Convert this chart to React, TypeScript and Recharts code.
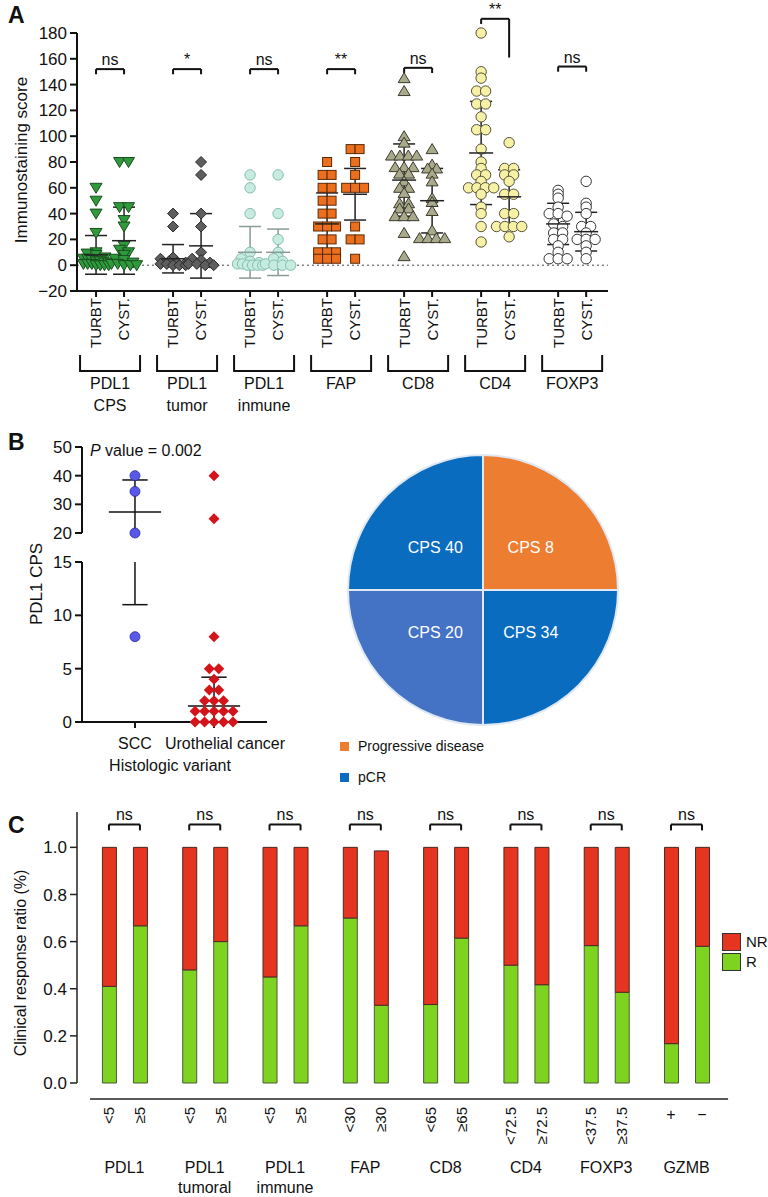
import {
  ScatterChart,
  Scatter,
  XAxis,
  YAxis,
  ReferenceLine,
  ErrorBar,
  BarChart,
  Bar,
  PieChart,
  Pie,
  Cell,
} from "recharts";

const FONT = "'Liberation Sans', Arial, Helvetica, sans-serif";
const INK = "#111111";

// ---------- panel A: immunostaining scores ----------
const markers = [["PDL1", "CPS"], ["PDL1", "tumor"], ["PDL1", "inmune"], ["FAP"], ["CD8"], ["CD4"], ["FOXP3"]];
const sampleTypes = ["TURBT", "CYST."];
const turbtScores = [
  [60, 50, 40, 25, 10, 9, 8, 6, 5, 5, 4, 3, 3, 2, 2, 1, 1, 1, 0, 0, 0, 0],
  [40, 30, 6, 5, 3, 2, 2, 1, 1, 0, 0, 0],
  [70, 60, 40, 10, 5, 3, 2, 1, 1, 0, 0, 0, 0],
  [80, 70, 70, 60, 60, 50, 50, 40, 40, 30, 30, 30, 20, 20, 10, 10, 10, 5, 5, 5],
  [145, 135, 100, 95, 85, 85, 85, 85, 76, 76, 76, 71, 71, 65, 60, 60, 56, 48, 48, 44, 44, 38, 38, 38, 25, 7],
  [180, 150, 145, 135, 135, 125, 125, 115, 105, 105, 90, 80, 75, 70, 70, 65, 60, 60, 60, 60, 55, 45, 40, 30, 18],
  [58, 55, 52, 45, 40, 40, 38, 32, 30, 25, 25, 20, 20, 15, 10, 5, 5, 5],
];
const cystScores = [
  [80, 80, 45, 45, 35, 30, 15, 12, 10, 8, 5, 4, 2, 1, 1, 0, 0, 0],
  [80, 70, 40, 30, 10, 5, 4, 2, 1, 1, 0, 0],
  [70, 40, 20, 10, 6, 5, 3, 1, 0, 0, 0],
  [90, 90, 80, 70, 60, 60, 60, 30, 20, 20, 5],
  [90, 78, 75, 75, 71, 65, 52, 49, 42, 27, 21, 21, 21, 21],
  [95, 75, 75, 70, 70, 65, 55, 55, 40, 40, 30, 30, 30, 30, 22],
  [65, 48, 45, 40, 30, 30, 25, 20, 20, 20, 15, 10, 5],
];
const turbtMean = [8, 5, 10, 32, 66, 87, 32];
const turbtSd = [15, 11, 20, 24, 28, 40, 16];
const cystMean = [19, 15, 10, 55, 50, 53, 26];
const cystSd = [26, 25, 18, 20, 25, 21, 15];
const significance = ["ns", "*", "ns", "**", "ns", "**", "ns"];
const bracketTop = [152, 152, 152, 152, 153, 191, 154];
const bracketRightEnd = [148, 148, 148, 148, 149, 161, 150];
const scoreTicks = [-20, 0, 20, 40, 60, 80, 100, 120, 140, 160, 180];

const markerStyles = [
  { kind: "triangleDown", fill: "#2f9a3c", stroke: "#1a4d1f", bar: "#222" },
  { kind: "diamond", fill: "#5e5e5e", stroke: "#2a2a2a", bar: "#222" },
  { kind: "circle", fill: "#c6ebe0", stroke: "#86bfae", bar: "#8a9a95" },
  { kind: "square", fill: "#ec6f1d", stroke: "#5a2a08", bar: "#222" },
  { kind: "triangleUp", fill: "#a9a98c", stroke: "#3b3b2c", bar: "#222" },
  { kind: "circle", fill: "#f6f1a6", stroke: "#55533a", bar: "#222" },
  { kind: "circle", fill: "#ffffff", stroke: "#333333", bar: "#222" },
];

// ---------- panel B: PDL1 CPS by histologic variant ----------
const variants = ["SCC", "Urothelial cancer"];
const sccScores = [40, 34.5, 20, 8];
const urothelialScores = [40, 25, 8, 5, 5, 4, 3, 3, 2, 2, 2, 1, 1, 1, 1, 1, 0, 0, 0, 0, 0];
const sccSummary = { mean: 27.3, upper: 38.5, lower: 11 };
const urothelialSummary = { mean: 1.5, upper: 4.2, lower: 0 };
const topTicks = [20, 30, 40, 50];
const bottomTicks = [0, 5, 10, 15];

const pieSlices = ["CPS 8", "CPS 34", "CPS 20", "CPS 40"];
const pieOutcome = ["Progressive disease", "pCR", "pCR", "pCR"];
const piePatients = [1, 1, 1, 1];
const pieColors = ["#ed7d31", "#0a6cbf", "#4472c4", "#0a6cbf"];
const outcomeLegend = [
  { name: "Progressive disease", color: "#ed7d31" },
  { name: "pCR", color: "#0a6cbf" },
];

// ---------- panel C: clinical response ratio ----------
const cutoffLabels = ["<5", "≥5", "<5", "≥5", "<5", "≥5", "<30", "≥30", "<65", "≥65", "<72.5", "≥72.5", "<37.5", "≥37.5", "+", "−"];
const responseGroups = [["PDL1"], ["PDL1", "tumoral"], ["PDL1", "immune"], ["FAP"], ["CD8"], ["CD4"], ["FOXP3"], ["GZMB"]];
const responders = [0.41, 0.667, 0.48, 0.6, 0.45, 0.667, 0.7, 0.33, 0.333, 0.615, 0.5, 0.417, 0.583, 0.385, 0.167, 0.58];
const nonResponders = [0.59, 0.333, 0.52, 0.4, 0.55, 0.333, 0.3, 0.655, 0.667, 0.385, 0.5, 0.583, 0.417, 0.615, 0.833, 0.42];
const ratioTicks = [0, 0.2, 0.4, 0.6, 0.8, 1.0];
const GREEN = "#7ed321";
const RED = "#e5341f";

// ---------- helpers ----------
function spread(values: number[], center: number, bin: number, step: number, maxWidth: number) {
  const keys = values.map((v) => Math.round(v / bin));
  const counts: Record<number, number> = {};
  keys.forEach((k) => (counts[k] = (counts[k] || 0) + 1));
  const seen: Record<number, number> = {};
  return values.map((v, i) => {
    const k = keys[i];
    const n = counts[k];
    const j = (seen[k] = (seen[k] ?? -1) + 1);
    const st = n > 1 ? Math.min(step, maxWidth / (n - 1)) : 0;
    return { x: center + (j - (n - 1) / 2) * st, y: v };
  });
}

function drawMarker(kind: string, cx: number, cy: number, fill: string, stroke: string) {
  const sw = 1;
  switch (kind) {
    case "square":
      return <rect x={cx - 4.5} y={cy - 4.5} width={9} height={9} fill={fill} stroke={stroke} strokeWidth={sw} />;
    case "diamond":
      return (
        <polygon
          points={`${cx},${cy - 5.5} ${cx + 5.5},${cy} ${cx},${cy + 5.5} ${cx - 5.5},${cy}`}
          fill={fill}
          stroke={stroke}
          strokeWidth={sw}
        />
      );
    case "triangleDown":
      return (
        <polygon
          points={`${cx - 6},${cy - 4.5} ${cx + 6},${cy - 4.5} ${cx},${cy + 5.5}`}
          fill={fill}
          stroke={stroke}
          strokeWidth={sw}
        />
      );
    case "triangleUp":
      return (
        <polygon
          points={`${cx - 6},${cy + 4.5} ${cx + 6},${cy + 4.5} ${cx},${cy - 5.5}`}
          fill={fill}
          stroke={stroke}
          strokeWidth={sw}
        />
      );
    default:
      return <circle cx={cx} cy={cy} r={5.2} fill={fill} stroke={stroke} strokeWidth={sw} />;
  }
}

const RotatedTitle = ({ tx, ty, text, size }: any) => (
  <text
    x={tx}
    y={ty}
    transform={`rotate(-90 ${tx} ${ty})`}
    textAnchor="middle"
    dy="0.36em"
    fontSize={size}
    fill={INK}
    fontFamily={FONT}
  >
    {text}
  </text>
);

const PlainTitle = ({ tx, ty, text, size }: any) => (
  <text x={tx} y={ty} textAnchor="middle" fontSize={size} fill={INK} fontFamily={FONT}>
    {text}
  </text>
);

const minus = (v: number) => (v < 0 ? `−${-v}` : `${v}`);

// ---------- panel A ----------
const STEP_A = 2.75;
const A_DOMAIN: [number, number] = [-0.68, 18.28];
const sampleX = markers.flatMap((_, g) => sampleTypes.map((_, s) => g * STEP_A + s));
const groupX = markers.map((_, g) => g * STEP_A + 0.5);

const SampleTick = ({ x, y, index }: any) => (
  <text
    x={x}
    y={y}
    dy="0.36em"
    transform={`rotate(-90 ${x} ${y})`}
    textAnchor="end"
    fontSize={15}
    fill={INK}
    fontFamily={FONT}
  >
    {sampleTypes[index % 2]}
  </text>
);

const GroupTick = ({ x, y, index }: any) => (
  <g>
    <path d={`M${x - 30},${y + 2} V${y + 18} H${x + 30} V${y + 2}`} stroke={INK} strokeWidth={2} fill="none" />
    {markers[index].map((t, i) => (
      <text key={t} x={x} y={y + 36 + i * 22} textAnchor="middle" fontSize={16} fill={INK} fontFamily={FONT}>
        {t}
      </text>
    ))}
  </g>
);

function PanelA() {
  return (
    <ScatterChart width={768} height={420} margin={{ top: 33, right: 160, bottom: 7, left: 17 }}>
      <XAxis
        type="number"
        dataKey="x"
        domain={A_DOMAIN}
        allowDataOverflow
        ticks={sampleX}
        interval={0}
        tick={<SampleTick />}
        tickSize={6}
        tickMargin={1}
        height={62}
        stroke={INK}
        strokeWidth={2}
      />
      <XAxis
        xAxisId="grp"
        type="number"
        dataKey="x"
        domain={A_DOMAIN}
        allowDataOverflow
        ticks={groupX}
        interval={0}
        tick={<GroupTick />}
        axisLine={false}
        tickLine={false}
        tickSize={0}
        tickMargin={0}
        height={60}
      />
      <YAxis
        type="number"
        dataKey="y"
        domain={[-20, 180]}
        ticks={scoreTicks}
        interval={0}
        width={60}
        tickSize={7}
        tickMargin={3}
        tickFormatter={minus}
        stroke={INK}
        strokeWidth={2}
        tick={{ fontSize: 17, fill: INK, fontFamily: FONT }}
        label={<RotatedTitle tx={21} ty={160} text="Immunostaining score" size={17} />}
      />
      <ReferenceLine y={0} stroke="#444" strokeDasharray="2 3" strokeWidth={1} />
      {/* anchors the group axis to its positions; draws nothing */}
      <Scatter
        xAxisId="grp"
        data={groupX.map((x) => ({ x, y: 0 }))}
        isAnimationActive={false}
        shape={() => <g />}
      />
      {markers.map((_, g) => {
        const st = markerStyles[g];
        const pts = [
          ...spread(turbtScores[g], g * STEP_A, 4, 0.32, 0.9),
          ...spread(cystScores[g], g * STEP_A + 1, 4, 0.32, 0.9),
        ];
        return (
          <Scatter
            key={`pts-${g}`}
            data={pts}
            isAnimationActive={false}
            shape={(p: any) => drawMarker(st.kind, p.cx, p.cy, st.fill, st.stroke)}
          />
        );
      })}
      {markers.map((_, g) => {
        const st = markerStyles[g];
        const summary = [
          { x: g * STEP_A, y: turbtMean[g], err: turbtSd[g] },
          { x: g * STEP_A + 1, y: cystMean[g], err: cystSd[g] },
        ];
        return (
          <Scatter
            key={`sum-${g}`}
            data={summary}
            isAnimationActive={false}
            shape={(p: any) => (
              <line x1={p.cx - 12} x2={p.cx + 12} y1={p.cy} y2={p.cy} stroke={st.bar} strokeWidth={1.5} />
            )}
          >
            <ErrorBar dataKey="err" direction="y" width={11} stroke={st.bar} strokeWidth={1.5} isAnimationActive={false} />
          </Scatter>
        );
      })}
      {markers.map((_, g) => {
        const x1 = g * STEP_A;
        const x2 = x1 + 1;
        const top = bracketTop[g];
        return [
          <ReferenceLine
            key={`bl-${g}`}
            segment={[{ x: x1, y: top }, { x: x1, y: top - 4 }]}
            stroke={INK}
            strokeWidth={2}
            ifOverflow="visible"
          />,
          <ReferenceLine
            key={`br-${g}`}
            segment={[{ x: x2, y: top }, { x: x2, y: bracketRightEnd[g] }]}
            stroke={INK}
            strokeWidth={2}
            ifOverflow="visible"
          />,
          <ReferenceLine
            key={`bt-${g}`}
            segment={[{ x: x1, y: top }, { x: x2, y: top }]}
            stroke={INK}
            strokeWidth={2}
            ifOverflow="visible"
            label={{
              value: significance[g],
              position: "top",
              offset: 4,
              fontSize: 16,
              fill: INK,
              fontFamily: FONT,
            }}
          />,
        ];
      })}
    </ScatterChart>
  );
}

// ---------- panel B ----------
const B_DOMAIN: [number, number] = [0.33, 2.67];
const sccPoints = spread(sccScores, 1, 1, 0.12, 0.6);
const uroPoints = spread(urothelialScores, 2, 1, 0.12, 0.6);

function seg(key: string, x1: number, y1: number, x2: number, y2: number) {
  return (
    <ReferenceLine
      key={key}
      segment={[{ x: x1, y: y1 }, { x: x2, y: y2 }]}
      stroke={INK}
      strokeWidth={1.5}
      ifOverflow="visible"
    />
  );
}

const sccShape = (p: any) => <circle cx={p.cx} cy={p.cy} r={5} fill="#5858ec" stroke="#2b2b8c" strokeWidth={0.8} />;
const uroShape = (p: any) => (
  <polygon
    points={`${p.cx},${p.cy - 5.5} ${p.cx + 5.5},${p.cy} ${p.cx},${p.cy + 5.5} ${p.cx - 5.5},${p.cy}`}
    fill="#d3141b"
  />
);

function PanelBTop() {
  return (
    <ScatterChart width={320} height={126} margin={{ top: 27, right: 53, bottom: 13, left: 22 }}>
      <XAxis type="number" dataKey="x" domain={B_DOMAIN} hide />
      <YAxis
        type="number"
        dataKey="y"
        domain={[20, 50]}
        ticks={topTicks}
        interval={0}
        width={60}
        tickSize={7}
        tickMargin={3}
        stroke={INK}
        strokeWidth={2}
        tick={{ fontSize: 17, fill: INK, fontFamily: FONT }}
      />
      {seg("scc-mean", 1 - 0.33, sccSummary.mean, 1 + 0.33, sccSummary.mean)}
      {seg("scc-cap", 1 - 0.16, sccSummary.upper, 1 + 0.16, sccSummary.upper)}
      {seg("scc-v", 1, sccSummary.upper, 1, 20)}
      <Scatter data={sccPoints.filter((p) => p.y >= 20)} isAnimationActive={false} shape={sccShape} />
      <Scatter data={uroPoints.filter((p) => p.y >= 20)} isAnimationActive={false} shape={uroShape} />
    </ScatterChart>
  );
}

const VariantTick = ({ x, y, index }: any) => (
  <text x={index === 1 ? x + 11 : x} y={y + 12} textAnchor="middle" fontSize={16} fill={INK} fontFamily={FONT}>
    {variants[index]}
  </text>
);

function PanelBBottom() {
  return (
    <ScatterChart width={320} height={240} margin={{ top: 22, right: 53, bottom: 8, left: 22 }}>
      <XAxis
        type="number"
        dataKey="x"
        domain={B_DOMAIN}
        ticks={[1, 2]}
        interval={0}
        height={50}
        tickSize={6}
        tickMargin={9}
        stroke={INK}
        strokeWidth={2}
        tick={<VariantTick />}
        label={<PlainTitle tx={170} ty={231} text="Histologic variant" size={16} />}
      />
      <YAxis
        type="number"
        dataKey="y"
        domain={[0, 15]}
        ticks={bottomTicks}
        interval={0}
        width={60}
        tickSize={7}
        tickMargin={3}
        stroke={INK}
        strokeWidth={2}
        tick={{ fontSize: 17, fill: INK, fontFamily: FONT }}
        label={<RotatedTitle tx={36} ty={44} text="PDL1 CPS" size={17} />}
      />
      {seg("scc-v2", 1, 15, 1, sccSummary.lower)}
      {seg("scc-cap2", 1 - 0.16, sccSummary.lower, 1 + 0.16, sccSummary.lower)}
      {seg("uro-v", 2, urothelialSummary.lower, 2, urothelialSummary.upper)}
      {seg("uro-cap", 2 - 0.16, urothelialSummary.upper, 2 + 0.16, urothelialSummary.upper)}
      {seg("uro-mean", 2 - 0.33, urothelialSummary.mean, 2 + 0.33, urothelialSummary.mean)}
      <Scatter data={sccPoints.filter((p) => p.y < 20)} isAnimationActive={false} shape={sccShape} />
      <Scatter data={uroPoints.filter((p) => p.y < 20)} isAnimationActive={false} shape={uroShape} />
    </ScatterChart>
  );
}

const pieData = pieSlices.map((name, i) => ({ name, value: piePatients[i], outcome: pieOutcome[i] }));

const renderPieLabel = (p: any) => {
  const rad = Math.PI / 180;
  const x = p.cx + p.outerRadius * 0.5 * Math.cos(-p.midAngle * rad);
  const y = p.cy + p.outerRadius * 0.44 * Math.sin(-p.midAngle * rad);
  return (
    <text x={x} y={y} fill="#ffffff" textAnchor="middle" dominantBaseline="central" fontSize={16} fontFamily={FONT}>
      {p.name}
    </text>
  );
};

function PanelBPie() {
  return (
    <PieChart width={320} height={320}>
      <Pie
        data={pieData}
        dataKey="value"
        nameKey="name"
        cx={158}
        cy={165}
        outerRadius={135}
        startAngle={90}
        endAngle={-270}
        stroke="#dfe8f3"
        strokeWidth={2}
        labelLine={false}
        label={renderPieLabel}
        isAnimationActive={false}
      >
        {pieData.map((d, i) => (
          <Cell key={d.name} fill={pieColors[i]} />
        ))}
      </Pie>
    </PieChart>
  );
}

// ---------- panel C ----------
const STEP_C = 2.59;
const cData = cutoffLabels.map((label, i) => ({
  x: Math.floor(i / 2) * STEP_C + (i % 2),
  label,
  R: responders[i],
  NR: nonResponders[i],
}));
const cX = cData.map((d) => d.x);
const cGroupX = responseGroups.map((_, g) => g * STEP_C + 0.5);

const CutoffTick = ({ x, y, index }: any) => {
  const label = cutoffLabels[index];
  if (label === "+" || label === "−") {
    return (
      <text x={x} y={y + 37} textAnchor="middle" fontSize={16} fill={INK} fontFamily={FONT}>
        {label}
      </text>
    );
  }
  return (
    <text
      x={x}
      y={y + 24}
      dy="0.36em"
      transform={`rotate(-90 ${x} ${y + 24})`}
      textAnchor="end"
      fontSize={15}
      fill={INK}
      fontFamily={FONT}
    >
      {label}
    </text>
  );
};

const ResponseGroupTick = ({ x, y, index }: any) => (
  <g>
    {responseGroups[index].map((t, i) => (
      <text key={t} x={x} y={y + 20 + i * 20} textAnchor="middle" fontSize={16} fill={INK} fontFamily={FONT}>
        {t}
      </text>
    ))}
  </g>
);

function PanelC() {
  return (
    <BarChart width={768} height={417} data={cData} margin={{ top: 32, right: 39, bottom: 0, left: 17 }} barSize={14}>
      <XAxis
        type="number"
        dataKey="x"
        domain={[-1.03, 20.0]}
        ticks={cX}
        interval={0}
        axisLine={false}
        tickLine={false}
        tickSize={0}
        tickMargin={0}
        height={70}
        tick={<CutoffTick />}
      />
      <XAxis
        xAxisId="grp"
        type="number"
        dataKey="x"
        domain={[-1.03, 20.0]}
        ticks={cGroupX}
        interval={0}
        axisLine={false}
        tickLine={false}
        tickSize={0}
        tickMargin={0}
        height={44}
        tick={<ResponseGroupTick />}
      />
      <YAxis
        type="number"
        domain={[0, 1.15]}
        ticks={ratioTicks}
        interval={0}
        width={60}
        tickSize={7}
        tickMargin={3}
        stroke="#222"
        strokeWidth={1.5}
        tickFormatter={(v: number) => v.toFixed(1)}
        tick={{ fontSize: 17, fill: INK, fontFamily: FONT }}
        label={<RotatedTitle tx={20} ty={183} text="Clinical response ratio (%)" size={16} />}
      />
      <Bar dataKey="R" stackId="s" fill={GREEN} stroke="#4d5a3a" strokeWidth={1} isAnimationActive={false} />
      <Bar dataKey="NR" stackId="s" fill={RED} stroke="#4a2a22" strokeWidth={1} isAnimationActive={false} />
      <ReferenceLine
        segment={[{ x: -0.61, y: -0.068 }, { x: 19.97, y: -0.068 }]}
        stroke="#222"
        strokeWidth={1.5}
        ifOverflow="visible"
      />
      {responseGroups.map((_, g) => {
        const x1 = g * STEP_C;
        const x2 = x1 + 1;
        return [
          <ReferenceLine
            key={`cl-${g}`}
            segment={[{ x: x1, y: 1.097 }, { x: x1, y: 1.072 }]}
            stroke={INK}
            strokeWidth={2}
            ifOverflow="visible"
          />,
          <ReferenceLine
            key={`cr-${g}`}
            segment={[{ x: x2, y: 1.097 }, { x: x2, y: 1.072 }]}
            stroke={INK}
            strokeWidth={2}
            ifOverflow="visible"
          />,
          <ReferenceLine
            key={`ct-${g}`}
            segment={[{ x: x1, y: 1.097 }, { x: x2, y: 1.097 }]}
            stroke={INK}
            strokeWidth={2}
            ifOverflow="visible"
            label={{ value: "ns", position: "top", offset: 4, fontSize: 16, fill: INK, fontFamily: FONT }}
          />,
        ];
      })}
    </BarChart>
  );
}

const responseLegend = [
  { name: "NR", color: RED },
  { name: "R", color: GREEN },
];

const panelLetter = (letter: string, top: number) => (
  <div
    style={{
      position: "absolute",
      left: 8,
      top,
      fontSize: 23,
      fontWeight: "bold",
      fontFamily: FONT,
      color: INK,
      lineHeight: "23px",
    }}
  >
    {letter}
  </div>
);

export default function App() {
  return (
    <div
      style={{
        position: "absolute",
        left: 0,
        top: 0,
        width: 768,
        height: 1197,
        background: "#ffffff",
        overflow: "hidden",
        fontFamily: FONT,
      }}
    >
      <div style={{ position: "absolute", left: 0, top: 0 }}>
        <PanelA />
      </div>
      <div style={{ position: "absolute", left: 0, top: 420 }}>
        <PanelBTop />
      </div>
      <div style={{ position: "absolute", left: 0, top: 540 }}>
        <PanelBBottom />
      </div>
      <div style={{ position: "absolute", left: 320, top: 420 }}>
        <PanelBPie />
      </div>
      <div style={{ position: "absolute", left: 0, top: 780 }}>
        <PanelC />
      </div>

      <div style={{ position: "absolute", left: 90, top: 441, fontSize: 16, color: INK, lineHeight: "20px" }}>
        <i>P</i> value = 0.002
      </div>

      {outcomeLegend.map((d, i) => (
        <div
          key={d.name}
          style={{ position: "absolute", left: 340, top: 737 + i * 31, display: "flex", alignItems: "center" }}
        >
          <div style={{ width: 9, height: 9, background: d.color, marginRight: 9 }} />
          <span style={{ fontSize: 14, color: INK, lineHeight: "18px" }}>{d.name}</span>
        </div>
      ))}

      {responseLegend.map((d, i) => (
        <div
          key={d.name}
          style={{ position: "absolute", left: 722, top: 933 + i * 20, display: "flex", alignItems: "center" }}
        >
          <div
            style={{
              width: 17,
              height: 16,
              background: d.color,
              border: "1px solid #333",
              marginRight: 5,
            }}
          />
          <span style={{ fontSize: 15, color: INK, lineHeight: "18px" }}>{d.name}</span>
        </div>
      ))}

      {panelLetter("A", 4)}
      {panelLetter("B", 431)}
      {panelLetter("C", 814)}
    </div>
  );
}
